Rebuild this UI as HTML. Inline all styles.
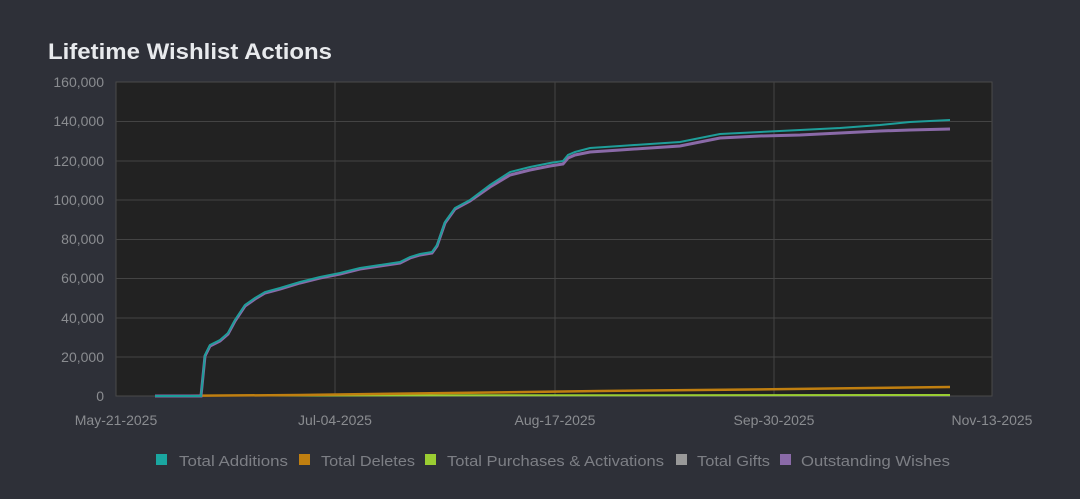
<!DOCTYPE html>
<html><head><style>
html,body{margin:0;padding:0;background:#2e3038;width:1080px;height:499px;overflow:hidden;font-family:"Liberation Sans",sans-serif;}
</style></head><body>
<svg width="1080" height="499" xmlns="http://www.w3.org/2000/svg" font-family="Liberation Sans, sans-serif">
<rect width="1080" height="499" fill="#2e3038"/>
<text x="48" y="59" fill="#e8eaed" font-size="22" font-weight="bold" textLength="284" lengthAdjust="spacingAndGlyphs">Lifetime Wishlist Actions</text>
<rect x="116" y="82" width="876" height="314" fill="#222222" stroke="#4a4a4a"/>
<g stroke="#444" stroke-width="1">
<line x1="116" x2="992" y1="121.5" y2="121.5"/><line x1="116" x2="992" y1="161" y2="161"/>
<line x1="116" x2="992" y1="200" y2="200"/><line x1="116" x2="992" y1="239.5" y2="239.5"/>
<line x1="116" x2="992" y1="278.5" y2="278.5"/><line x1="116" x2="992" y1="318" y2="318"/>
<line x1="116" x2="992" y1="357" y2="357"/>
<line x1="335" x2="335" y1="82" y2="396"/><line x1="555" x2="555" y1="82" y2="396"/><line x1="774" x2="774" y1="82" y2="396"/>
</g>
<g fill="#8a8c90" font-size="14" text-anchor="end">
<text x="104" y="87">160,000</text><text x="104" y="126">140,000</text><text x="104" y="166">120,000</text>
<text x="104" y="205">100,000</text><text x="104" y="244">80,000</text><text x="104" y="283">60,000</text>
<text x="104" y="323">40,000</text><text x="104" y="362">20,000</text><text x="104" y="401">0</text>
</g>
<g fill="#8a8c90" font-size="14" text-anchor="middle">
<text x="116" y="425">May-21-2025</text><text x="335" y="425">Jul-04-2025</text><text x="555" y="425">Aug-17-2025</text>
<text x="774" y="425">Sep-30-2025</text><text x="992" y="425">Nov-13-2025</text>
</g>
<polyline fill="none" stroke="#888" stroke-width="2" points="155,395.5 950,395.5"/>
<polyline fill="none" stroke="#9acd32" stroke-width="2" points="201,395.5 950,395"/>
<polyline fill="none" stroke="#c07f10" stroke-width="2.5" points="155,396 300,395 450,393 600,391 750,389.5 950,387"/>
<polyline fill="none" stroke="#8a6aa8" stroke-width="3" points="155,396 201,396 205,356 210,346 220,341 228,334 235,321 245,306 255,299 265,293 280,289 300,283 320,278 340,274 360,269 380,266 400,263 410,258 420,255 432,253 437,246 445,223 455,209 470,201 490,187 510,175 530,170 550,166 563,164 568,158 575,155 590,152 620,150 650,148 680,146 705,141 720,138 760,136 800,135 840,133 880,131 910,130 950,129"/>
<polyline fill="none" stroke="#1e9e9a" stroke-width="2" points="155,396 201,396 205,355 210,345 220,340 228,333 235,320 245,305 255,298 265,292 280,288 300,282 320,277 340,273 360,268 380,265 400,262 410,257 420,254 432,252 437,245 445,222 455,208 470,200 490,185 510,172 530,167 550,163 563,161 568,155 575,152 590,148 620,146 650,144 680,142 705,137 720,134 760,132 800,130 840,128 880,125 910,122 950,120"/>
<g font-size="15" fill="#7d7f85">
<rect x="156" y="454" width="11" height="11" fill="#1aa6a0"/><text x="179" y="466" textLength="109" lengthAdjust="spacingAndGlyphs">Total Additions</text>
<rect x="299" y="454" width="11" height="11" fill="#c07f10"/><text x="321" y="466" textLength="94" lengthAdjust="spacingAndGlyphs">Total Deletes</text>
<rect x="425" y="454" width="11" height="11" fill="#9acd32"/><text x="447" y="466" textLength="217" lengthAdjust="spacingAndGlyphs">Total Purchases &amp; Activations</text>
<rect x="676" y="454" width="11" height="11" fill="#999"/><text x="697" y="466" textLength="73" lengthAdjust="spacingAndGlyphs">Total Gifts</text>
<rect x="780" y="454" width="11" height="11" fill="#8a6aa8"/><text x="801" y="466" textLength="149" lengthAdjust="spacingAndGlyphs">Outstanding Wishes</text>
</g>
</svg>
</body></html>
